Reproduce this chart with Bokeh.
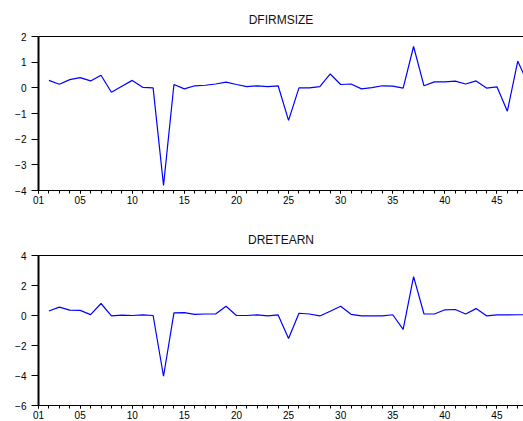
from bokeh.plotting import figure
from bokeh.layouts import column
from bokeh.models import Range1d, FixedTicker, LinearAxis
from bokeh.embed import file_html
from bokeh.resources import INLINE

obs = list(range(2, 49))
dfirmsize = [0.29, 0.14, 0.32, 0.40, 0.27, 0.49, -0.17, 0.06, 0.29, 0.02,
             0.00, -3.80, 0.13, -0.04, 0.08, 0.10, 0.15, 0.22, 0.13, 0.05,
             0.08, 0.05, 0.08, -1.27, 0.00, 0.00, 0.05, 0.54, 0.13, 0.15,
             -0.04, 0.01, 0.08, 0.07, -0.01, 1.61, 0.08, 0.23, 0.23, 0.26,
             0.15, 0.27, -0.01, 0.04, -0.91, 1.04, 0.15]
dretearn = [0.30, 0.56, 0.36, 0.34, 0.06, 0.80, -0.03, 0.02, 0.00, 0.04,
            0.00, -4.05, 0.17, 0.19, 0.08, 0.10, 0.10, 0.62, 0.00, 0.00,
            0.04, -0.02, 0.04, -1.54, 0.15, 0.10, -0.03, 0.28, 0.62, 0.08,
            -0.02, -0.02, -0.02, 0.05, -0.92, 2.59, 0.10, 0.10, 0.38, 0.40,
            0.10, 0.46, -0.02, 0.04, 0.04, 0.05, 0.05]
x_ticks = [1, 5, 10, 15, 20, 25, 30, 35, 40, 45]
x_labels = {1: "01", 5: "05", 10: "10", 15: "15", 20: "20", 25: "25",
            30: "30", 35: "35", 40: "40", 45: "45"}
top_y_ticks = [-4, -3, -2, -1, 0, 1, 2]
bot_y_ticks = [-6, -4, -2, 0, 2, 4]

FONT = "Liberation Sans"


def make(title, ys, yr, yticks, h, btop, bbot, standoff):
    p = figure(width=523, height=h, output_backend="svg", toolbar_location=None,
               x_range=Range1d(1, 47.55), y_range=Range1d(*yr),
               min_border_left=38, min_border_right=0,
               min_border_top=btop, min_border_bottom=bbot)
    p.title.text = title
    p.title.align = "center"
    p.title.text_font = FONT
    p.title.text_font_size = "12px"
    p.title.text_font_style = "normal"
    p.title.text_color = "#111111"
    p.title.standoff = standoff
    p.outline_line_color = None
    p.xgrid.visible = False
    p.ygrid.visible = False
    p.background_fill_color = "white"
    p.border_fill_color = "white"

    xa = p.xaxis[0]
    xa.ticker = FixedTicker(ticks=x_ticks, minor_ticks=list(range(1, 48)))
    xa.major_label_overrides = x_labels
    xa.major_tick_in = 0
    xa.major_tick_out = 3
    xa.minor_tick_in = 0
    xa.minor_tick_out = 3
    xa.major_label_standoff = 2
    xa.axis_line_width = 1.2

    ya = p.yaxis[0]
    ya.ticker = FixedTicker(ticks=yticks)
    ya.major_tick_in = 0
    ya.major_tick_out = 7
    ya.minor_tick_line_color = None
    ya.major_label_standoff = 5
    ya.axis_line_width = 2

    for ax in (xa, ya):
        ax.axis_line_color = "black"
        ax.major_tick_line_color = "black"
        ax.major_label_text_font = FONT
        ax.major_label_text_font_size = "10px"
        ax.major_label_text_color = "black"
    xa.minor_tick_line_color = "black"

    top = LinearAxis(ticker=FixedTicker(ticks=[]), axis_line_color="black",
                     axis_line_width=1, major_tick_line_color=None,
                     minor_tick_line_color=None)
    p.add_layout(top, "above")

    p.line(obs, ys, line_color="#0000ff", line_width=1.2)
    return p


p1 = make("DFIRMSIZE", dfirmsize, (-4, 2), top_y_ticks, 215, 36, 25, 20)
p2 = make("DRETEARN", dretearn, (-6, 4), bot_y_ticks, 206, 40, 12, 18)

layout = column(p1, p2, spacing=0)
open("out.html", "w").write(file_html(layout, INLINE))
